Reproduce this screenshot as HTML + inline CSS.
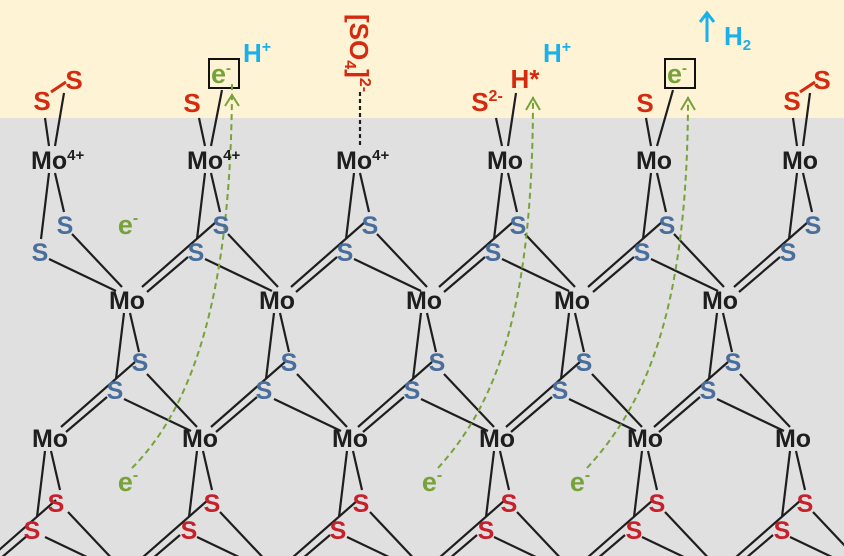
<!DOCTYPE html>
<html><head><meta charset="utf-8"><style>
html,body{margin:0;padding:0;width:844px;height:556px;overflow:hidden}
svg{display:block}
text{font-family:"Liberation Sans",sans-serif;font-weight:bold}
.mo{font-size:25px;fill:#1e1e1e;text-anchor:middle}
.sb{font-size:25px;fill:#4a6e9c;text-anchor:middle}
.sr{font-size:25px;fill:#c8202a;text-anchor:middle}
.st{font-size:26px;fill:#d42a10;text-anchor:middle}
.e{font-size:27px;fill:#77a23a;text-anchor:middle}
.h{font-size:26px;fill:#1ab0ea}
</style></head><body>
<svg width="844" height="556" viewBox="0 0 844 556" xmlns="http://www.w3.org/2000/svg">
<rect x="0" y="0" width="844" height="118" fill="#fff3d6"/>
<rect x="0" y="118" width="844" height="438" fill="#e0e0e0"/>
<defs>
<g id="d" stroke="#1e1e1e" stroke-width="2.2" fill="none">
<path d="M3,13 L12,52 M-3,13 L-11,79 M20,74 L70,127 M-3,99 L64,131"/>
</g>
<g id="l" stroke="#1e1e1e" stroke-width="2.2" fill="none">
<path d="M-66,127 L8,62 M-61,132 L-20,97"/>
</g>
</defs>
<!-- row1 -->
<use href="#d" transform="translate(52,160)"/>
<use href="#d" transform="translate(208,160)"/><use href="#l" transform="translate(208,160)"/>
<use href="#d" transform="translate(357,160)"/><use href="#l" transform="translate(357,160)"/>
<use href="#d" transform="translate(505,160)"/><use href="#l" transform="translate(505,160)"/>
<use href="#d" transform="translate(654,160)"/><use href="#l" transform="translate(654,160)"/>
<g stroke="#1e1e1e" stroke-width="2.2"><path d="M803,173 L812,212 M797,173 L789,239"/></g>
<use href="#l" transform="translate(800,160)"/>
<!-- row2 -->
<use href="#d" transform="translate(127,300)"/><use href="#l" transform="translate(127,300)"/>
<use href="#d" transform="translate(277,300)"/><use href="#l" transform="translate(277,300)"/>
<use href="#d" transform="translate(424,300)"/><use href="#l" transform="translate(424,300)"/>
<use href="#d" transform="translate(572,300)"/><use href="#l" transform="translate(572,300)"/>
<use href="#d" transform="translate(720,300)"/><use href="#l" transform="translate(720,300)"/>
<!-- row3 -->
<use href="#d" transform="translate(48,438)"/><use href="#l" transform="translate(48,438)"/>
<use href="#d" transform="translate(200,438)"/><use href="#l" transform="translate(200,438)"/>
<use href="#d" transform="translate(350,438)"/><use href="#l" transform="translate(350,438)"/>
<use href="#d" transform="translate(497,438)"/><use href="#l" transform="translate(497,438)"/>
<use href="#d" transform="translate(645,438)"/><use href="#l" transform="translate(645,438)"/>
<use href="#d" transform="translate(793,438)"/><use href="#l" transform="translate(793,438)"/>
<!-- top bonds -->
<g stroke="#1e1e1e" stroke-width="2.2" fill="none">
<path d="M49,146 L45,118 M55,146 L64,93"/>
<path d="M205,146 L199,118 M211,146 L222,90"/>
<path d="M502,146 L496,118 M508,146 L516,93"/>
<path d="M651,146 L646,118 M657,146 L673,90"/>
<path d="M797,146 L793,118 M803,146 L810,93"/>
<path d="M360,145 L360,90" stroke-dasharray="4,3"/>
</g>
<g stroke="#d42a10" stroke-width="3"><path d="M51,92 L66,82 M800,92 L815,82"/></g>
<!-- boxes -->
<rect x="209" y="59" width="30" height="29" fill="none" stroke="#111" stroke-width="2"/>
<rect x="665" y="59" width="30" height="29" fill="none" stroke="#111" stroke-width="2"/>
<!-- green dashed paths -->
<g stroke="#77a23a" stroke-width="2" fill="none" stroke-dasharray="6,4">
<path d="M132,468 C190,410 232,300 232,82"/>
<path d="M438,468 C500,400 533,300 533,97"/>
<path d="M587,468 C650,400 688,300 688,97"/>
</g>
<g stroke="#77a23a" stroke-width="2" fill="none">
<path d="M225,106 L232,95 L239,106 M526,110 L533,98 L540,110 M681,110 L688,98 L695,110"/>
</g>
<!-- Mo labels -->
<text class="mo" x="31" y="169" style="text-anchor:start">Mo<tspan font-size="15" dy="-9">4+</tspan></text>
<text class="mo" x="187" y="169" style="text-anchor:start">Mo<tspan font-size="15" dy="-9">4+</tspan></text>
<text class="mo" x="336" y="169" style="text-anchor:start">Mo<tspan font-size="15" dy="-9">4+</tspan></text>
<text class="mo" x="505" y="169">Mo</text>
<text class="mo" x="654" y="169">Mo</text>
<text class="mo" x="800" y="169">Mo</text>
<text class="mo" x="127" y="309">Mo</text><text class="mo" x="277" y="309">Mo</text><text class="mo" x="424" y="309">Mo</text><text class="mo" x="572" y="309">Mo</text><text class="mo" x="720" y="309">Mo</text>
<text class="mo" x="50" y="447">Mo</text><text class="mo" x="200" y="447">Mo</text><text class="mo" x="350" y="447">Mo</text><text class="mo" x="497" y="447">Mo</text><text class="mo" x="645" y="447">Mo</text><text class="mo" x="793" y="447">Mo</text>
<!-- blue S row1 -->
<text class="sb" x="65" y="234">S</text><text class="sb" x="40" y="261">S</text>
<text class="sb" x="221" y="234">S</text><text class="sb" x="196" y="261">S</text>
<text class="sb" x="370" y="234">S</text><text class="sb" x="345" y="261">S</text>
<text class="sb" x="518" y="234">S</text><text class="sb" x="493" y="261">S</text>
<text class="sb" x="667" y="234">S</text><text class="sb" x="642" y="261">S</text>
<text class="sb" x="813" y="234">S</text><text class="sb" x="788" y="261">S</text>
<!-- blue S row2 -->
<text class="sb" x="140" y="371">S</text><text class="sb" x="115" y="399">S</text>
<text class="sb" x="289" y="371">S</text><text class="sb" x="264" y="399">S</text>
<text class="sb" x="437" y="371">S</text><text class="sb" x="412" y="399">S</text>
<text class="sb" x="584" y="371">S</text><text class="sb" x="560" y="399">S</text>
<text class="sb" x="733" y="371">S</text><text class="sb" x="708" y="399">S</text>
<!-- red S row3 -->
<text class="sr" x="56" y="512">S</text><text class="sr" x="32" y="539">S</text>
<text class="sr" x="212" y="512">S</text><text class="sr" x="189" y="539">S</text>
<text class="sr" x="361" y="512">S</text><text class="sr" x="338" y="539">S</text>
<text class="sr" x="509" y="512">S</text><text class="sr" x="486" y="539">S</text>
<text class="sr" x="657" y="512">S</text><text class="sr" x="634" y="539">S</text>
<text class="sr" x="805" y="512">S</text><text class="sr" x="782" y="539">S</text>
<!-- top labels -->
<text class="st" x="42" y="110">S</text><text class="st" x="74" y="89">S</text>
<text class="st" x="192" y="112">S</text>
<text class="st" x="487" y="111">S<tspan font-size="16" dy="-10">2-</tspan></text>
<text class="st" x="525" y="88">H*</text>
<text class="st" x="645" y="112">S</text>
<text class="st" x="792" y="110">S</text><text class="st" x="822" y="89">S</text>
<text class="st" x="0" y="0" style="text-anchor:start" transform="translate(350,14) rotate(90)">[SO<tspan font-size="16" dy="5">4</tspan><tspan dy="-5">]</tspan><tspan font-size="16" dy="-10">2-</tspan></text>
<text class="e" x="221" y="83" font-size="26">e<tspan font-size="15" dy="-10">-</tspan></text>
<text class="e" x="677" y="83" font-size="26">e<tspan font-size="15" dy="-10">-</tspan></text>
<text class="e" x="128" y="234">e<tspan font-size="16" dy="-11">-</tspan></text>
<text class="e" x="128" y="491">e<tspan font-size="16" dy="-11">-</tspan></text>
<text class="e" x="432" y="491">e<tspan font-size="16" dy="-11">-</tspan></text>
<text class="e" x="580" y="491">e<tspan font-size="16" dy="-11">-</tspan></text>
<text class="h" x="243" y="62">H<tspan font-size="16" dy="-10">+</tspan></text>
<text class="h" x="543" y="62">H<tspan font-size="16" dy="-10">+</tspan></text>
<g stroke="#1ab0ea" stroke-width="3" fill="none"><path d="M707,42 L707,14 M700,22 L707,13 L714,22"/></g>
<text class="h" x="724" y="45" font-size="24">H<tspan font-size="15" dy="5">2</tspan></text>
</svg>
</body></html>
